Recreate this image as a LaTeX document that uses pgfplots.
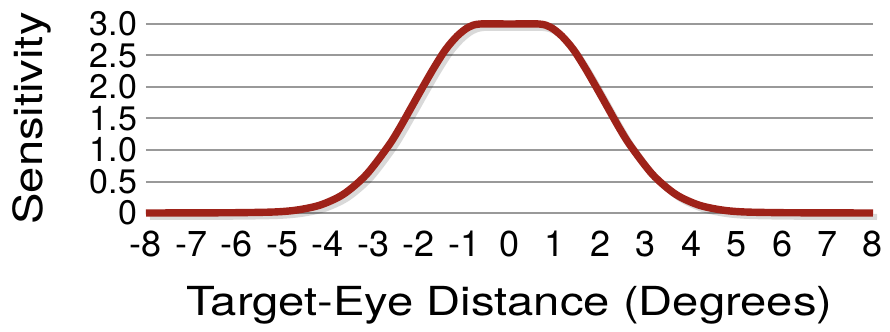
\documentclass[border=0pt]{standalone}
\usepackage{fontspec}
\setmainfont{TeX Gyre Heros}
\newfontfamily\labfont{TeX Gyre Heros}[FakeStretch=1.18]
\usepackage{pgfplots}
\pgfplotsset{compat=1.18}
\definecolor{curve}{HTML}{9E2219}
\begin{document}
\begin{tikzpicture}
\begin{axis}[
  scale only axis, width=363.5pt, height=94.5pt,
  xmin=-8, xmax=8, ymin=0, ymax=3,
  axis line style={draw=none},
  major tick length=0pt,
  xtick={-8,-7,-6,-5,-4,-3,-2,-1,0,1,2,3,4,5,6,7,8},
  xticklabels={-8,-7,-6,-5,-4,-3,-2,-1,0,1,2,3,4,5,6,7,8},
  ytick={0,0.5,1,1.5,2,2.5,3},
  yticklabels={0,0.5,1.0,1.5,2.0,2.5,3.0},
  ymajorgrids, grid style={black!40, line width=1pt},
  yticklabel style={font=\fontsize{17}{17}\selectfont, inner ysep=0pt, xshift=-1pt},
  xticklabel style={font=\fontsize{18}{18}\selectfont, inner xsep=0pt, anchor=base, yshift=-21.5pt},
  xlabel={Target-Eye Distance (Degrees)}, ylabel={Sensitivity},
  xlabel style={font=\labfont\fontsize{20}{20}\selectfont, at={(axis description cs:0.5,-0.5397)}, anchor=base},
  ylabel style={font=\labfont\fontsize{20}{20}\selectfont, at={(axis description cs:-0.143,0.5)}, anchor=base},
  clip=false,
]
\addplot[smooth, line width=3pt, black, opacity=0.15, transform canvas={xshift=2pt,yshift=-2pt}] coordinates {
(-8,0) (-7,0.002) (-6,0.005) (-5.15,0.017) (-4.65,0.05) (-4.15,0.13) (-3.65,0.30) (-3.15,0.61) (-2.65,1.08) (-2.4,1.37) (-2.15,1.69) (-1.9,2.01) (-1.65,2.32) (-1.4,2.60) (-1.15,2.81) (-0.9,2.95) (-0.65,3.0) (0,3.0) (0.65,3.0) (0.9,2.95) (1.15,2.81) (1.4,2.60) (1.65,2.32) (1.9,2.01) (2.15,1.69) (2.4,1.37) (2.65,1.08) (3.15,0.61) (3.65,0.30) (4.15,0.13) (4.65,0.05) (5.15,0.017) (6,0.005) (7,0.002) (8,0)
};
\addplot[smooth, line width=3.7pt, curve] coordinates {
(-8,0) (-7,0.002) (-6,0.005) (-5.15,0.017) (-4.65,0.05) (-4.15,0.13) (-3.65,0.30) (-3.15,0.61) (-2.65,1.08) (-2.4,1.37) (-2.15,1.69) (-1.9,2.01) (-1.65,2.32) (-1.4,2.60) (-1.15,2.81) (-0.9,2.95) (-0.65,3.0) (0,3.0) (0.65,3.0) (0.9,2.95) (1.15,2.81) (1.4,2.60) (1.65,2.32) (1.9,2.01) (2.15,1.69) (2.4,1.37) (2.65,1.08) (3.15,0.61) (3.65,0.30) (4.15,0.13) (4.65,0.05) (5.15,0.017) (6,0.005) (7,0.002) (8,0)
};
\end{axis}
\pgfresetboundingbox
\path[use as bounding box] (-73pt,-59.5pt) rectangle (372pt,106.5pt);
\end{tikzpicture}
\end{document}
